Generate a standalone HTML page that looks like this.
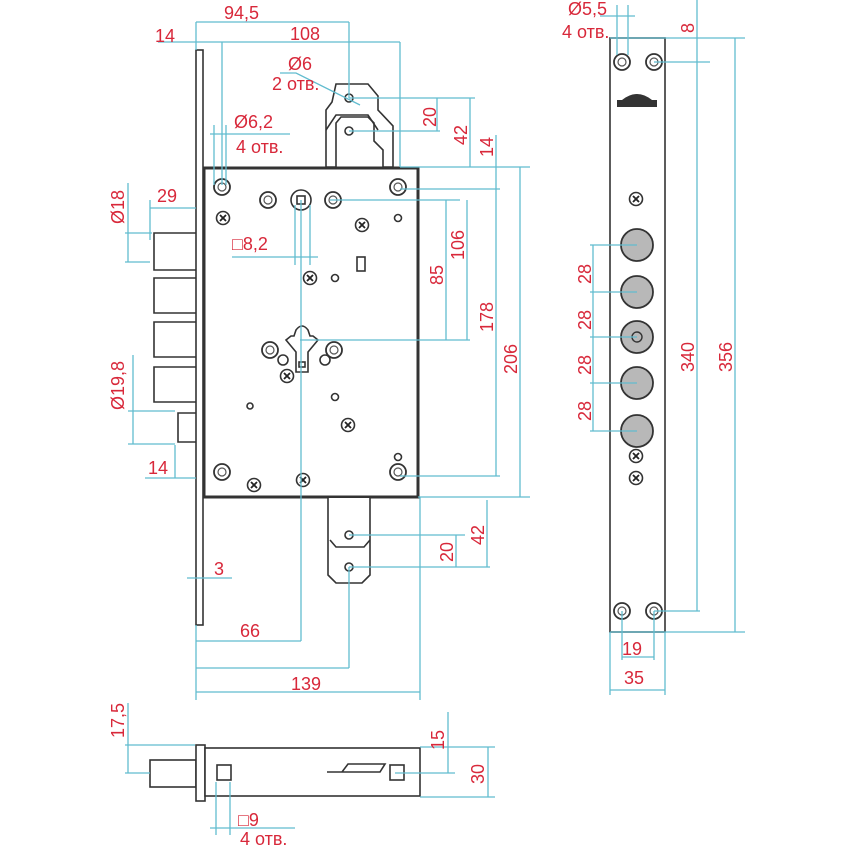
<!DOCTYPE html>
<html><head><meta charset="utf-8"><style>
html,body{margin:0;padding:0;background:#fff}
svg{display:block}
text{font-family:"Liberation Sans",Arial,sans-serif;fill:#d8283a;font-size:18px}
.d{stroke:#62bccf;stroke-width:1.3;fill:none}
.k{stroke:#333;stroke-width:1.6;fill:none}
.kf{stroke:#333;stroke-width:1.6;fill:#fff}
</style></head><body>
<svg width="850" height="850" viewBox="0 0 850 850" xmlns="http://www.w3.org/2000/svg">
<defs>
<g id="ring"><circle r="8" fill="#fff" stroke="#333" stroke-width="1.8"/><circle r="4" fill="none" stroke="#555" stroke-width="1.2"/></g>
<g id="scr"><circle r="6.5" fill="#fff" stroke="#333" stroke-width="1.6"/><path d="M-3,-3L3,3M3,-3L-3,3" stroke="#222" stroke-width="1.8"/></g>
</defs>

<!-- faceplate main -->
<rect x="196" y="50" width="7" height="575" class="kf"/>
<!-- bolts -->
<path class="k" d="M196,233H154V270H196M196,278H154V313H196M196,322H154V357H196M196,367H154V402H196"/>
<path class="k" d="M196,413H178V442H196"/>
<!-- top bracket -->
<path class="kf" d="M336,84H368L378,96V110L393,126V167H383V150L374,141V123L368,117H341L336,123V167H326V110L332,102Z"/>
<path class="k" d="M326,130L336,115H368L378,130"/>
<circle cx="349" cy="98" r="4" class="k"/><circle cx="349" cy="131" r="4" class="k"/>
<!-- main body -->
<rect x="204" y="168" width="214" height="329" fill="#fff" stroke="#333" stroke-width="3"/>
<!-- bottom bracket -->
<path class="kf" d="M328,498V575L336,583H362L370,575V498"/>
<path class="k" d="M330,540L336,547H364L370,540"/>
<circle cx="349" cy="535" r="4" class="k"/><circle cx="349" cy="567" r="4" class="k"/>
<!-- body internals -->
<use href="#ring" x="222" y="187"/><use href="#ring" x="268" y="200"/><use href="#ring" x="333" y="200"/><use href="#ring" x="398" y="187"/>
<use href="#ring" x="222" y="472"/><use href="#ring" x="398" y="472"/><use href="#ring" x="270" y="350"/><use href="#ring" x="334" y="350"/>
<circle cx="301" cy="200" r="10" class="kf"/><rect x="297" y="196" width="8" height="8" class="k" stroke-width="1.2"/>
<use href="#scr" x="223" y="218"/><use href="#scr" x="362" y="225"/><use href="#scr" x="310" y="278"/><use href="#scr" x="287" y="376"/><use href="#scr" x="348" y="425"/><use href="#scr" x="254" y="485"/><use href="#scr" x="303" y="480"/>
<g class="k" stroke-width="1.2"><circle cx="398" cy="218" r="3.5"/><circle cx="335" cy="278" r="3.5"/><circle cx="335" cy="397" r="3.5"/><circle cx="250" cy="406" r="3"/><circle cx="398" cy="457" r="3.5"/><circle cx="283" cy="360" r="5"/><circle cx="325" cy="360" r="5"/></g>
<rect x="357" y="257" width="8" height="14" class="k" stroke-width="1.4"/>
<path class="k" stroke-width="1.4" d="M296,372V352L286,340L291,336H294L296,330Q302,322 308,330L310,336H313L318,340L308,352V372Z"/>
<rect x="299" y="362" width="6" height="5" class="k" stroke-width="1"/>
<!-- bottom view -->
<rect x="150" y="760" width="46" height="27" class="kf"/>
<rect x="196" y="745" width="9" height="56" class="kf"/>
<rect x="205" y="748" width="215" height="48" class="kf"/>
<rect x="217" y="765" width="14" height="15" class="k" stroke-width="1.3"/>
<rect x="390" y="765" width="14" height="15" class="k" stroke-width="1.3"/>
<path class="k" stroke-width="1.3" d="M327,772H342L348,764H385L380,772H327"/>
<!-- right strip -->
<rect x="610" y="38" width="55" height="594" class="kf"/>
<use href="#ring" x="622" y="62"/><use href="#ring" x="654" y="62"/><use href="#ring" x="622" y="611"/><use href="#ring" x="654" y="611"/>
<path d="M622,100Q637,88 652,100Z" fill="#333"/><rect x="617" y="100" width="40" height="7" fill="#333"/>
<use href="#scr" x="636" y="199"/><use href="#scr" x="636" y="456"/><use href="#scr" x="636" y="478"/>
<g fill="#b8b8b8" stroke="#333" stroke-width="1.8"><circle cx="637" cy="245" r="16"/><circle cx="637" cy="292" r="16"/><circle cx="637" cy="337" r="16"/><circle cx="637" cy="383" r="16"/><circle cx="637" cy="431" r="16"/></g>
<circle cx="637" cy="337" r="5" fill="none" stroke="#333" stroke-width="1.4"/>

<!-- dimension lines -->
<g class="d">
<path d="M196,22H349M158,42H400M196,22V50M222,42V185M349,22V98M400,42V167"/>
<path d="M349,98H475M349,131H440M437,98V131M470,98V167M496,135V189M400,167H530M400,189H500M330,200H460M467,200V340M446,200V340M300,340H470M496,189V476M400,476H500M520,167V497M418,497H530"/>
<path d="M487,500V567M456,535V567M349,535H465M349,567H490"/>
<path d="M301,200V641M196,641H301M196,668H349M196,692H420M196,625V700M349,567V668M420,497V700"/>
<path d="M187,578H232"/>
<path d="M150,208H196M150,200V240M128,183V262M125,233H152M125,262H150"/>
<path d="M133,355V444M128,411H175M128,444H175M175,445V478M145,478H196"/>
<path d="M210,134H290M214,125V185M226,125V185"/>
<path d="M280,73H296L360,105"/>
<path d="M232,257H318M295,205V265M310,205V265"/>
<path d="M600,16H635M617,5V55M628,5V55M697,0V611M610,38H745M654,62H710M654,611H700M735,38V632M610,632H745"/>
<path d="M593,245V431M590,245H637M590,292H637M590,337H637M590,383H637M590,431H637"/>
<path d="M622,611V660M654,611V660M622,657H654M610,632V695M665,632V695M610,690H665"/>
<path d="M128,703V773M125,745H195M125,773H150M448,712V773M395,773H455M488,747V797M420,747H495M420,797H495"/>
<path d="M210,828H295M216,782V835M230,782V835"/>
</g>

<!-- labels -->
<text x="224" y="19">94,5</text>
<text x="155" y="42">14</text>
<text x="290" y="40">108</text>
<text x="288" y="70">Ø6</text>
<text x="272" y="90">2 отв.</text>
<text x="234" y="128">Ø6,2</text>
<text x="236" y="153">4 отв.</text>
<text x="232" y="250">□8,2</text>
<text x="157" y="202">29</text>
<text x="0" y="0" transform="translate(124,224) rotate(-90)">Ø18</text>
<text x="0" y="0" transform="translate(124,410) rotate(-90)">Ø19,8</text>
<text x="148" y="474">14</text>
<text x="214" y="575">3</text>
<text x="240" y="637">66</text>
<text x="291" y="690">139</text>
<text transform="translate(436,127) rotate(-90)">20</text>
<text transform="translate(467,145) rotate(-90)">42</text>
<text transform="translate(493,157) rotate(-90)">14</text>
<text transform="translate(443,285) rotate(-90)">85</text>
<text transform="translate(464,260) rotate(-90)">106</text>
<text transform="translate(493,332) rotate(-90)">178</text>
<text transform="translate(517,374) rotate(-90)">206</text>
<text transform="translate(484,545) rotate(-90)">42</text>
<text transform="translate(453,562) rotate(-90)">20</text>
<text x="568" y="15">Ø5,5</text>
<text x="562" y="38">4 отв.</text>
<text transform="translate(694,33) rotate(-90)">8</text>
<text transform="translate(694,372) rotate(-90)">340</text>
<text transform="translate(732,372) rotate(-90)">356</text>
<text transform="translate(591,284) rotate(-90)">28</text>
<text transform="translate(591,330) rotate(-90)">28</text>
<text transform="translate(591,375) rotate(-90)">28</text>
<text transform="translate(591,421) rotate(-90)">28</text>
<text x="622" y="655">19</text>
<text x="624" y="684">35</text>
<text transform="translate(124,738) rotate(-90)">17,5</text>
<text transform="translate(444,750) rotate(-90)">15</text>
<text transform="translate(484,784) rotate(-90)">30</text>
<text x="238" y="826">□9</text>
<text x="240" y="845">4 отв.</text>
</svg>
</body></html>
